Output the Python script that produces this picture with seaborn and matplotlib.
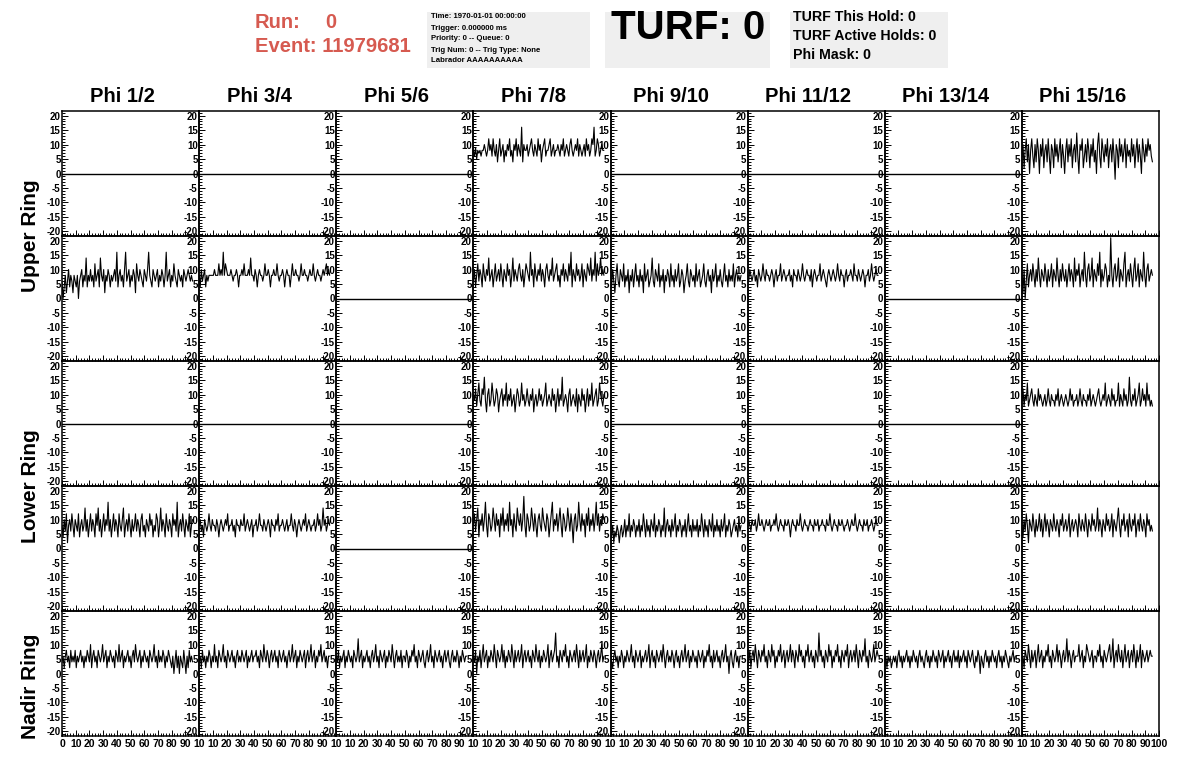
import numpy as np
import matplotlib
matplotlib.use("Agg")
import matplotlib.pyplot as plt
from matplotlib.patches import Rectangle
import seaborn as sns

sns.set_theme(style="white")
plt.rcParams["font.family"] = ["Liberation Sans", "DejaVu Sans"]
plt.rcParams["font.weight"] = "bold"
plt.rcParams["text.color"] = "black"
plt.rcParams["xtick.color"] = "black"
plt.rcParams["ytick.color"] = "black"
plt.rcParams["axes.unicode_minus"] = False

# labels
phi_labels = ["Phi 1/2", "Phi 3/4", "Phi 5/6", "Phi 7/8",
              "Phi 9/10", "Phi 11/12", "Phi 13/14", "Phi 15/16"]
ring_labels = ["Upper Ring", "Lower Ring", "Nadir Ring"]
info_lines = ["Time: 1970-01-01 00:00:00", "Trigger: 0.000000 ms",
              "Priority: 0 -- Queue: 0", "Trig Num: 0 -- Trig Type: None",
              "Labrador AAAAAAAAAA"]
turf_lines = ["TURF This Hold: 0", "TURF Active Holds: 0", "Phi Mask: 0"]

sample_step = 0.8          # ns per sample
flat_time = [0, 100]       # dead channels read a constant 0
flat_level = [0, 0]

# waveforms
u1_78 = [
    8, 6, 9, 5, 8, 7, 8, 6, 8, 8, 10, 8, 6, 8, 12, 8, 10, 6, 12, 8,
    6, 10, 4, 8, 12, 6, 8, 10, 4, 8, 6, 10, 8, 12, 6, 8, 4, 10, 8, 12,
    6, 10, 8, 6, 16, 4, 10, 8, 8, 10, 6, 8, 10, 12, 8, 6, 10, 8, 6, 12,
    8, 10, 4, 8, 10, 12, 6, 8, 8, 10, 12, 6, 8, 10, 6, 8, 8, 10, 8, 6,
    10, 8, 12, 6, 8, 10, 8, 6, 10, 12, 8, 6, 8, 10, 8, 12, 6, 10, 8, 6,
    8, 10, 6, 12, 8, 10, 6, 8, 12, 10, 16, 6, 8, 12, 10, 6, 8, 10, 8, 8]
u1_1516 = [
    6, 10, 2, 8, 12, 4, 10, 0, 8, 12, 6, 2, 10, 4, 12, 8, 0, 10, 6, 12,
    2, 8, 10, 4, 12, 6, 0, 10, 8, 2, 12, 6, 10, 4, 8, 12, 2, 10, 6, 0,
    8, 12, 4, 10, 6, 12, 2, 8, 10, 4, 14, 6, 0, 10, 8, 12, 2, 6, 10, 4,
    12, 8, 2, 10, 6, 12, 4, 8, 0, 10, 14, 6, 2, 12, 8, 4, 10, 6, 12, 2,
    8, 10, 4, 12, 6, -2, 10, 8, 2, 12, 6, 10, 4, 8, 12, 2, 10, 6, 8, 4,
    12, 6, 10, 2, 8, 12, 4, 10, 6, 0, 12, 8, 4, 10, 6, 12, 8, 10, 6, 4]
u2_12 = [
    6, 0, 4, 8, 2, 6, 10, 4, 8, 6, 2, 8, 6, 4, 8, 0, 6, 8, 10, 4,
    8, 6, 14, 4, 8, 6, 10, 6, 8, 4, 12, 6, 8, 10, 4, 14, 8, 6, 10, 2,
    8, 6, 10, 8, 4, 8, 6, 8, 10, 6, 16, 4, 8, 10, 6, 8, 4, 10, 16, 6,
    8, 10, 4, 8, 6, 10, 8, 2, 12, 8, 6, 10, 8, 6, 4, 10, 8, 6, 10, 16,
    8, 6, 4, 10, 8, 6, 8, 10, 4, 8, 6, 10, 8, 4, 8, 16, 6, 8, 10, 4,
    8, 6, 12, 8, 6, 4, 10, 8, 6, 8, 4, 10, 8, 6, 8, 10, 8, 6, 8, 6]
u2_34 = [
    8, 4, 10, 6, 8, 10, 4, 8, 6, 8, 8, 8, 8, 8, 10, 8, 8, 8, 12, 8,
    10, 8, 16, 8, 12, 10, 8, 8, 8, 10, 8, 6, 8, 8, 10, 8, 4, 8, 8, 10,
    8, 12, 8, 8, 8, 10, 8, 14, 8, 8, 6, 10, 8, 4, 8, 10, 8, 8, 6, 8,
    12, 8, 8, 10, 8, 4, 8, 8, 10, 8, 8, 12, 8, 6, 8, 8, 10, 8, 4, 8,
    10, 8, 8, 4, 8, 12, 8, 8, 10, 8, 8, 6, 8, 12, 8, 8, 10, 8, 8, 6,
    8, 10, 8, 8, 12, 8, 6, 8, 10, 8, 8, 6, 8, 10, 8, 10, 12, 8, 10, 8]
u2_78 = [
    6, 10, 4, 8, 12, 6, 10, 8, 4, 12, 8, 6, 10, 8, 14, 6, 8, 10, 4, 8,
    12, 6, 8, 10, 6, 12, 8, 4, 10, 8, 6, 12, 8, 10, 4, 8, 14, 6, 10, 8,
    6, 10, 12, 8, 6, 10, 4, 8, 12, 10, 8, 6, 16, 8, 10, 4, 12, 8, 6, 10,
    8, 12, 6, 10, 8, 4, 10, 12, 8, 6, 10, 8, 14, 6, 8, 10, 12, 6, 8, 4,
    10, 8, 12, 6, 10, 8, 6, 12, 8, 16, 4, 10, 8, 6, 12, 8, 10, 6, 8, 12,
    4, 10, 8, 6, 12, 10, 8, 14, 6, 10, 8, 16, 6, 12, 8, 10, 14, 8, 10, 8]
u2_910 = [
    8, 4, 10, 6, 2, 8, 12, 6, 4, 10, 8, 6, 12, 4, 8, 6, 10, 2, 8, 6,
    10, 4, 8, 12, 6, 8, 4, 10, 6, 8, 2, 12, 6, 8, 10, 4, 6, 8, 14, 6,
    4, 10, 8, 6, 12, 4, 8, 6, 10, 2, 8, 6, 10, 8, 4, 12, 6, 8, 4, 10,
    6, 8, 12, 4, 6, 10, 8, 2, 6, 8, 12, 6, 4, 10, 8, 6, 8, 4, 12, 6,
    8, 10, 4, 6, 8, 12, 6, 4, 8, 10, 6, 8, 2, 10, 6, 8, 12, 4, 8, 6,
    10, 6, 4, 8, 12, 6, 8, 4, 10, 6, 8, 6, 12, 4, 8, 10, 6, 8, 6, 8]
u2_1112 = [
    8, 6, 10, 8, 6, 8, 10, 6, 8, 4, 10, 8, 6, 8, 12, 8, 6, 10, 8, 8,
    6, 8, 10, 8, 4, 8, 10, 6, 8, 8, 12, 6, 8, 10, 8, 6, 8, 8, 10, 6,
    8, 4, 10, 8, 8, 6, 10, 8, 6, 8, 12, 8, 6, 8, 10, 8, 8, 6, 10, 4,
    8, 10, 8, 6, 8, 8, 12, 6, 8, 10, 8, 6, 4, 8, 10, 8, 6, 8, 10, 8,
    6, 8, 12, 8, 6, 10, 8, 8, 4, 8, 10, 6, 8, 8, 10, 8, 6, 12, 8, 8,
    6, 10, 8, 6, 8, 10, 8, 4, 8, 8, 10, 6, 8, 12, 8, 6, 8, 10, 8, 8]
u2_1516 = [
    8, 2, 10, 0, 6, 12, 4, 8, 10, 6, 12, 8, 4, 10, 6, 14, 8, 4, 10, 8,
    6, 12, 8, 4, 10, 6, 8, 12, 4, 10, 8, 6, 14, 8, 4, 10, 6, 12, 8, 6,
    10, 4, 8, 12, 6, 10, 8, 4, 14, 6, 10, 8, 12, 4, 8, 10, 6, 16, 8, 4,
    10, 12, 6, 8, 14, 4, 10, 8, 6, 12, 8, 16, 4, 10, 6, 8, 12, 10, 4, 8,
    6, 21, 8, 4, 10, 12, 6, 8, 14, 4, 10, 8, 6, 12, 16, 4, 8, 10, 6, 12,
    8, 4, 10, 14, 6, 8, 12, 4, 10, 8, 6, 16, 8, 4, 10, 12, 6, 8, 10, 8]
l1_78 = [
    10, 8, 12, 6, 10, 14, 8, 6, 12, 10, 16, 8, 4, 10, 12, 6, 8, 14, 10, 6,
    8, 12, 10, 4, 8, 10, 12, 6, 10, 8, 14, 6, 10, 8, 12, 6, 8, 10, 4, 8,
    12, 10, 6, 8, 14, 8, 10, 6, 8, 12, 8, 6, 10, 8, 12, 4, 8, 10, 6, 8,
    12, 8, 10, 6, 8, 10, 14, 6, 8, 10, 8, 6, 12, 8, 10, 4, 8, 12, 6, 10,
    8, 16, 6, 8, 10, 8, 4, 10, 12, 6, 8, 10, 8, 6, 12, 4, 10, 8, 6, 12,
    8, 10, 4, 8, 12, 6, 10, 8, 14, 6, 8, 10, 12, 6, 8, 14, 10, 8, 6, 10]
l1_1516 = [
    8, 12, 6, 10, 8, 14, 6, 8, 10, 12, 8, 6, 10, 8, 6, 12, 8, 10, 8, 6,
    8, 10, 6, 8, 12, 8, 6, 10, 8, 8, 6, 10, 8, 12, 6, 8, 10, 8, 6, 8,
    10, 8, 6, 8, 12, 8, 10, 6, 8, 8, 10, 6, 8, 12, 8, 6, 10, 8, 8, 6,
    10, 8, 12, 6, 8, 10, 8, 6, 8, 10, 12, 8, 6, 8, 10, 8, 14, 6, 8, 10,
    8, 6, 12, 8, 10, 6, 8, 8, 14, 6, 10, 8, 6, 12, 8, 10, 6, 8, 16, 8,
    6, 10, 8, 12, 6, 8, 10, 14, 6, 8, 12, 8, 10, 6, 14, 8, 10, 6, 8, 6]
l2_12 = [
    8, 4, 10, 6, 12, 2, 8, 10, 6, 12, 8, 4, 10, 8, 6, 12, 4, 8, 10, 6,
    8, 14, 6, 10, 4, 8, 12, 6, 10, 8, 4, 12, 8, 14, 6, 10, 4, 8, 12, 6,
    10, 8, 16, 6, 10, 4, 8, 12, 6, 10, 8, 4, 12, 8, 6, 10, 14, 4, 8, 10,
    6, 12, 8, 4, 10, 6, 8, 12, 6, 10, 8, 4, 10, 12, 6, 8, 4, 10, 8, 6,
    12, 8, 10, 4, 8, 6, 12, 10, 4, 8, 14, 6, 10, 8, 4, 12, 8, 6, 10, 8,
    4, 12, 8, 10, 6, 16, 4, 8, 10, 6, 12, 8, 4, 10, 8, 6, 12, 4, 8, 10]
l2_34 = [
    8, 10, 6, 8, 4, 10, 8, 6, 8, 12, 8, 6, 10, 8, 8, 6, 10, 8, 4, 8,
    10, 8, 6, 8, 10, 8, 12, 6, 8, 8, 10, 6, 8, 4, 10, 8, 8, 6, 10, 8,
    8, 12, 6, 8, 10, 8, 6, 8, 10, 4, 8, 8, 10, 6, 8, 12, 8, 8, 6, 10,
    8, 6, 8, 10, 8, 4, 10, 8, 8, 6, 10, 8, 12, 6, 8, 8, 10, 8, 6, 8,
    10, 6, 8, 8, 12, 8, 6, 10, 8, 4, 8, 10, 8, 6, 8, 10, 8, 12, 6, 8,
    10, 8, 6, 8, 8, 10, 6, 8, 12, 8, 10, 6, 8, 14, 8, 10, 6, 8, 10, 8]
l2_78 = [
    8, 12, 6, 10, 14, 4, 10, 8, 12, 6, 10, 16, 8, 4, 12, 10, 6, 8, 14, 10,
    6, 12, 8, 10, 4, 12, 8, 14, 6, 10, 8, 12, 6, 16, 8, 10, 4, 12, 8, 6,
    14, 10, 8, 12, 6, 10, 18, 8, 4, 12, 10, 6, 8, 14, 10, 6, 12, 8, 4, 10,
    12, 8, 6, 14, 10, 8, 6, 12, 10, 4, 8, 12, 16, 6, 10, 8, 12, 6, 10, 14,
    8, 4, 12, 10, 6, 8, 14, 10, 6, 12, 8, 2, 10, 12, 6, 8, 16, 10, 6, 12,
    8, 10, 4, 12, 8, 14, 6, 10, 8, 12, 6, 10, 16, 8, 12, 6, 10, 8, 12, 10]
l2_910 = [
    6, 4, 8, 2, 6, 4, 8, 6, 2, 6, 8, 4, 6, 10, 4, 8, 6, 12, 4, 8,
    6, 10, 8, 4, 8, 6, 10, 4, 8, 6, 12, 8, 4, 10, 6, 8, 4, 10, 8, 6,
    12, 4, 8, 6, 10, 8, 4, 8, 6, 14, 4, 8, 10, 6, 8, 4, 10, 6, 8, 12,
    4, 8, 6, 10, 8, 4, 8, 6, 10, 4, 8, 12, 6, 8, 4, 10, 6, 8, 6, 10,
    4, 8, 6, 12, 8, 4, 10, 6, 8, 4, 10, 8, 6, 12, 4, 8, 6, 10, 6, 8,
    4, 10, 6, 8, 12, 4, 8, 6, 10, 8, 4, 6, 8, 10, 6, 8, 4, 10, 6, 8]
l2_1112 = [
    8, 10, 8, 6, 10, 8, 8, 10, 6, 8, 12, 8, 8, 10, 8, 6, 8, 10, 8, 8,
    10, 6, 8, 8, 10, 8, 12, 8, 6, 8, 10, 8, 8, 6, 10, 8, 8, 10, 8, 4,
    8, 10, 8, 8, 6, 10, 8, 8, 12, 8, 6, 8, 10, 8, 8, 6, 8, 10, 8, 8,
    6, 10, 8, 8, 10, 6, 8, 8, 10, 8, 8, 6, 10, 8, 8, 12, 8, 6, 8, 10,
    8, 8, 6, 10, 8, 8, 10, 8, 6, 8, 8, 10, 8, 6, 8, 10, 8, 8, 12, 8,
    6, 8, 10, 8, 8, 6, 10, 8, 8, 10, 6, 8, 8, 10, 8, 6, 8, 10, 8, 8]
l2_1516 = [
    8, 4, 10, 6, 12, 8, 2, 10, 8, 6, 12, 8, 4, 10, 6, 8, 12, 6, 10, 4,
    8, 12, 6, 10, 8, 4, 10, 8, 6, 12, 8, 6, 10, 8, 4, 10, 8, 12, 6, 8,
    10, 6, 8, 12, 4, 8, 10, 6, 8, 10, 8, 4, 12, 8, 6, 10, 8, 6, 12, 8,
    4, 10, 8, 6, 12, 8, 10, 6, 8, 14, 6, 10, 8, 4, 10, 8, 6, 12, 8, 10,
    6, 8, 12, 4, 10, 8, 6, 10, 14, 8, 4, 10, 8, 12, 6, 8, 10, 4, 12, 8,
    6, 10, 8, 12, 4, 8, 10, 6, 12, 8, 6, 10, 8, 4, 12, 8, 10, 6, 8, 6]
n_12 = [
    4, 6, 2, 6, 8, 4, 6, 2, 8, 4, 6, 4, 8, 2, 6, 4, 6, 8, 4, 6,
    2, 6, 4, 8, 6, 4, 10, 2, 6, 8, 4, 6, 2, 8, 6, 4, 6, 10, 4, 6,
    8, 2, 6, 4, 8, 6, 4, 6, 2, 8, 6, 4, 10, 4, 6, 8, 2, 6, 4, 6,
    8, 4, 6, 2, 6, 8, 4, 10, 6, 4, 6, 8, 2, 6, 4, 8, 6, 4, 6, 2,
    8, 6, 4, 6, 10, 4, 6, 2, 8, 4, 6, 4, 8, 6, 2, 6, 4, 8, 6, 4,
    2, 6, 0, 4, 8, 2, 6, 0, 6, 4, 2, 8, 4, 0, 6, 2, 8, 4, 6, 4]
n_34 = [
    4, 6, 2, 8, 4, 6, 2, 6, 4, 8, 6, 2, 6, 4, 10, 4, 6, 2, 8, 6,
    4, 6, 10, 4, 6, 2, 8, 6, 4, 6, 8, 4, 6, 2, 6, 8, 4, 6, 4, 8,
    6, 4, 6, 8, 2, 6, 4, 6, 8, 4, 6, 6, 8, 4, 6, 2, 8, 6, 4, 10,
    6, 4, 8, 6, 2, 6, 8, 4, 6, 8, 4, 6, 2, 8, 6, 4, 6, 8, 4, 6,
    2, 6, 8, 4, 6, 10, 4, 6, 8, 2, 6, 4, 8, 6, 4, 6, 8, 2, 6, 8,
    4, 6, 10, 4, 6, 8, 2, 6, 4, 8, 6, 10, 4, 6, 8, 4, 6, 2, 6, 6]
n_56 = [
    6, 4, 8, 2, 6, 4, 6, 8, 2, 6, 4, 8, 6, 4, 6, 2, 8, 6, 4, 6,
    12, 4, 6, 8, 2, 6, 4, 6, 8, 4, 6, 2, 6, 8, 4, 6, 10, 4, 6, 2,
    8, 6, 4, 6, 8, 2, 6, 4, 8, 6, 4, 10, 6, 2, 6, 8, 4, 6, 4, 8,
    2, 6, 6, 4, 8, 6, 2, 6, 4, 8, 6, 10, 4, 6, 2, 8, 6, 4, 6, 8,
    4, 2, 6, 8, 4, 6, 10, 4, 6, 2, 8, 6, 4, 6, 8, 4, 6, 2, 6, 8,
    4, 6, 8, 4, 2, 6, 8, 4, 6, 4, 8, 6, 2, 6, 4, 8, 6, 4, 6, 6]
n_78 = [
    6, 4, 8, 0, 6, 4, 8, 2, 6, 10, 4, 6, 8, 2, 6, 4, 8, 6, 4, 10,
    6, 2, 8, 6, 4, 6, 10, 4, 8, 2, 6, 4, 8, 6, 4, 10, 6, 2, 8, 4,
    6, 8, 4, 6, 10, 2, 6, 8, 4, 6, 8, 4, 6, 2, 8, 6, 4, 10, 6, 4,
    8, 2, 6, 4, 8, 6, 4, 6, 10, 2, 6, 8, 4, 6, 8, 14, 4, 6, 2, 8,
    6, 4, 8, 6, 10, 4, 6, 2, 8, 6, 4, 6, 8, 4, 10, 6, 2, 8, 4, 6,
    8, 4, 6, 10, 2, 6, 4, 8, 6, 4, 8, 6, 2, 6, 8, 4, 6, 10, 4, 6]
n_910 = [
    6, 4, 2, 6, 8, 4, 6, 2, 6, 4, 8, 6, 2, 6, 4, 8, 6, 4, 6, 10,
    4, 6, 2, 8, 6, 4, 6, 8, 2, 6, 4, 6, 8, 4, 6, 10, 2, 6, 8, 4,
    6, 2, 8, 6, 4, 6, 8, 4, 10, 6, 2, 6, 8, 4, 6, 4, 8, 6, 2, 6,
    8, 4, 6, 2, 6, 8, 4, 6, 10, 4, 6, 8, 2, 6, 4, 8, 6, 4, 6, 2,
    8, 6, 4, 6, 8, 2, 6, 4, 8, 6, 10, 4, 6, 2, 8, 4, 6, 8, 4, 6,
    2, 6, 8, 4, 6, 10, 4, 6, 0, 6, 8, 4, 2, 6, 8, 4, 6, 2, 6, 6]
n_1112 = [
    6, 4, 8, 2, 6, 8, 4, 10, 6, 2, 8, 6, 4, 8, 6, 10, 4, 6, 2, 8,
    6, 4, 10, 6, 8, 2, 6, 4, 8, 6, 10, 4, 6, 8, 2, 6, 8, 4, 6, 10,
    4, 8, 6, 2, 8, 6, 4, 10, 6, 8, 4, 6, 2, 8, 6, 10, 4, 6, 8, 4,
    6, 2, 8, 6, 4, 14, 6, 8, 4, 6, 2, 8, 6, 4, 10, 6, 8, 2, 6, 4,
    8, 6, 10, 4, 6, 2, 8, 6, 4, 8, 6, 10, 2, 6, 8, 4, 6, 8, 4, 10,
    6, 2, 8, 6, 4, 8, 6, 12, 4, 6, 2, 8, 6, 4, 6, 10, 4, 6, 8, 6]
n_1314 = [
    4, 6, 2, 6, 4, 6, 2, 4, 6, 4, 6, 2, 6, 8, 4, 6, 2, 6, 4, 6,
    8, 4, 6, 2, 6, 4, 8, 6, 4, 6, 2, 6, 8, 4, 6, 4, 2, 6, 8, 4,
    6, 2, 6, 4, 8, 6, 4, 6, 2, 8, 6, 4, 6, 8, 2, 6, 4, 6, 8, 4,
    6, 2, 6, 8, 4, 6, 4, 8, 2, 6, 4, 6, 8, 4, 6, 2, 8, 6, 4, 6,
    8, 4, 2, 6, 4, 8, 6, 0, 6, 4, 2, 6, 8, 4, 6, 2, 6, 4, 8, 6,
    4, 6, 2, 6, 8, 4, 6, 2, 6, 4, 8, 6, 4, 2, 6, 4, 6, 8, 4, 6]
n_1516 = [
    4, 6, 2, 8, 6, 4, 10, 6, 2, 8, 4, 6, 8, 2, 6, 10, 4, 6, 8, 2,
    6, 4, 8, 6, 10, 4, 6, 2, 8, 6, 4, 6, 10, 4, 8, 6, 2, 6, 8, 4,
    6, 12, 4, 8, 6, 2, 6, 8, 4, 6, 6, 6, 10, 4, 6, 8, 2, 6, 4, 10,
    8, 6, 4, 6, 8, 2, 6, 6, 4, 8, 6, 10, 4, 6, 2, 8, 6, 4, 6, 8,
    10, 4, 6, 12, 2, 6, 8, 4, 10, 6, 4, 8, 2, 6, 10, 4, 6, 8, 2, 6,
    8, 4, 10, 6, 2, 8, 4, 6, 10, 2, 8, 6, 4, 6, 8, 4, 6, 8, 6, 6]

F = "flat"  # channel reads a constant zero; None = nothing drawn
panel_traces = [
    [F, F, F, u1_78, F, F, F, u1_1516],
    [u2_12, u2_34, F, u2_78, u2_910, u2_1112, F, u2_1516],
    [F, F, F, l1_78, F, F, F, l1_1516],
    [l2_12, l2_34, F, l2_78, l2_910, l2_1112, None, l2_1516],
    [n_12, n_34, n_56, n_78, n_910, n_1112, n_1314, n_1516],
]

W, H = 1196, 772
fig = plt.figure(figsize=(W / 100, H / 100), dpi=100)

def fx(px):
    return px / W

def fy(py):
    return 1 - py / H

# grid of pads
left0, right0, top0, bot0 = 62, 1159, 111, 736
pw = (right0 - left0) / 8
ph = (bot0 - top0) / 5

for r in range(5):
    for c in range(8):
        ax = fig.add_axes([fx(left0 + c * pw), fy(top0 + (r + 1) * ph), pw / W, ph / H])
        ax.set_facecolor("none")
        trace = panel_traces[r][c]
        if isinstance(trace, str):
            sns.lineplot(x=flat_time, y=flat_level, ax=ax, color="black", lw=1.0)
        elif trace is not None:
            t = np.arange(len(trace)) * sample_step
            sns.lineplot(x=t, y=trace, ax=ax, color="black", lw=0.8, estimator=None)
        ax.set_xlim(0, 100)
        ax.set_ylim(-21.6, 21.6)
        ax.set_xlabel("")
        ax.set_ylabel("")
        ax.set_yticks(range(-20, 21, 5))
        ax.set_yticks(range(-21, 22, 1), minor=True)
        ax.set_xticks(range(0, 101, 10))
        ax.set_xticks(range(0, 101, 2), minor=True)
        ax.tick_params(which="both", direction="in", color="black",
                       left=True, bottom=True, top=False, right=False, width=0.7)
        ax.tick_params(which="major", length=4.5)
        ax.tick_params(which="minor", length=2.2)
        ax.tick_params(axis="y", labelsize=7, pad=1, labelcolor="black")
        ax.tick_params(axis="x", labelsize=7.5, pad=2, labelcolor="black")
        for lab in ax.get_yticklabels():
            lab.set_fontweight("bold")
        if r == 4:
            xl = [str(v) for v in range(0, 101, 10)]
            if c > 0:
                xl[0] = ""
            if c < 7:
                xl[-1] = "10"
            ax.set_xticklabels(xl, fontweight="bold")
        else:
            ax.set_xticklabels([])
        for sp in ax.spines.values():
            sp.set_color("black")
            sp.set_linewidth(1.1)
            sp.set_visible(True)

# column titles and ring labels
for c, lab in enumerate(phi_labels):
    fig.text(fx(left0 + (c + 0.5) * pw - 8), fy(97), lab, ha="center", va="center",
             fontsize=14.5, fontweight="bold")
ring_centers = [236, 486, 686]
for lab, yc in zip(ring_labels, ring_centers):
    fig.text(fx(30), fy(yc), lab, rotation=90, ha="center", va="center",
             fontsize=15, fontweight="bold")

# header
red = "#d65a50"
fig.text(fx(255), fy(22), "Run:", color=red, fontsize=14.5, fontweight="bold", va="center")
fig.text(fx(325), fy(22), "0", color=red, fontsize=14.5, fontweight="bold", va="center")
fig.text(fx(255), fy(47), "Event: 11979681", color=red, fontsize=14.5,
         fontweight="bold", va="center")

box_color = "#efefef"
for x0, x1 in [(427, 590), (605, 770), (790, 948)]:
    fig.add_artist(Rectangle((fx(x0), fy(68)), (x1 - x0) / W, 56 / H,
                             transform=fig.transFigure, facecolor=box_color,
                             edgecolor="none", zorder=0))

for i, line in enumerate(info_lines):
    fig.text(fx(431), fy(17 + i * 11), line, fontsize=5.6, fontweight="bold", va="center")

fig.text(fx(688), fy(28), "TURF: 0", fontsize=29, fontweight="bold",
         ha="center", va="center")

for i, line in enumerate(turf_lines):
    fig.text(fx(793), fy(17 + i * 19), line, fontsize=10.2, fontweight="bold", va="center")

fig.savefig("out.png", dpi=100)
